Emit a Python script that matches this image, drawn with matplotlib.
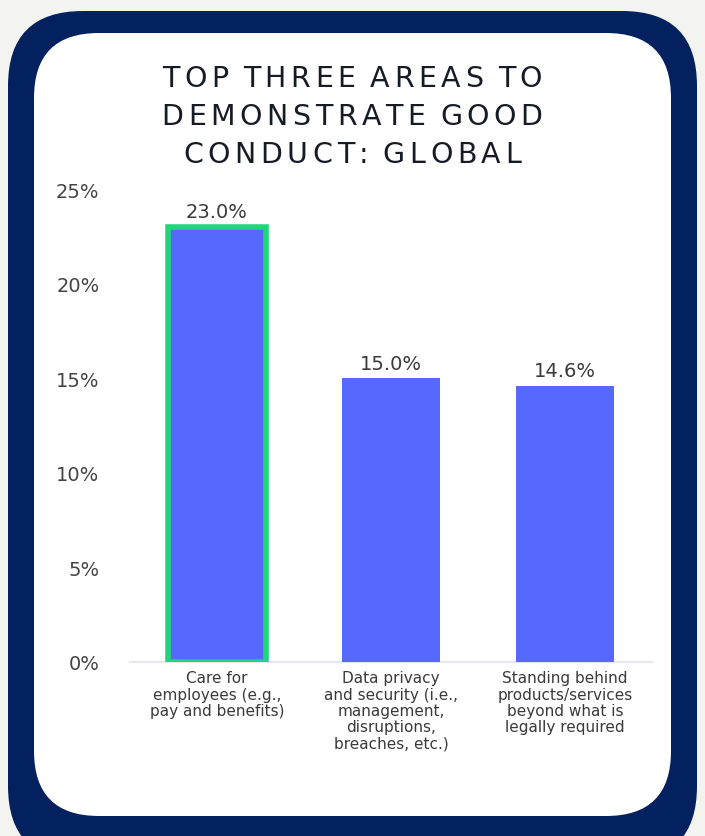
import matplotlib
matplotlib.use("Agg")
import matplotlib.pyplot as plt
from matplotlib.patches import FancyBboxPatch, Rectangle
from matplotlib.font_manager import FontProperties
from matplotlib.textpath import text_to_path

# data
categories = ["Care for\nemployees (e.g.,\npay and benefits)",
              "Data privacy\nand security (i.e.,\nmanagement,\ndisruptions,\nbreaches, etc.)",
              "Standing behind\nproducts/services\nbeyond what is\nlegally required"]
values = [23.0, 15.0, 14.6]
yticks = [0, 5, 10, 15, 20, 25]
title_lines = ["TOP THREE AREAS TO", "DEMONSTRATE GOOD", "CONDUCT: GLOBAL"]

W, H = 705, 837
fig = plt.figure(figsize=(W / 100, H / 100), dpi=100)
fig.patch.set_facecolor("#f3f4ef")

# background frame drawn in pixel coordinates
bg = fig.add_axes([0, 0, 1, 1])
bg.set_xlim(0, W)
bg.set_ylim(H, 0)
bg.axis("off")
bg.add_patch(FancyBboxPatch((8, 12), 689, 850, boxstyle="round,pad=0,rounding_size=75",
                            fc="#03215e", ec="none"))
bg.add_patch(FancyBboxPatch((34, 34), 637, 783, boxstyle="round,pad=0,rounding_size=65",
                            fc="white", ec="none"))
bg.add_patch(Rectangle((45, 200), 615, 588, fc="white", ec="none"))

# title with letter spacing
fp = FontProperties(family="DejaVu Sans", size=20.5)
k = 100 / 72
target = 380
widths = [[text_to_path.get_text_width_height_descent(c, fp, ismath=False)[0] * k * (0.6 if c == " " else 1)
           for c in ln] for ln in title_lines]
track = (target - sum(widths[0])) / (len(title_lines[0]) - 1)
for i, ln in enumerate(title_lines):
    ws = widths[i]
    total = sum(ws) + track * (len(ln) - 1)
    x = 352 - total / 2
    y = 79 + i * 38
    for c, w in zip(ln, ws):
        bg.text(x, y, c, fontproperties=fp, color="#161b26", ha="left", va="center")
        x += w + track

# chart
ax = fig.add_axes([130 / W, 1 - 663 / H, 522 / W, 473 / H])
ax.set_facecolor("none")
x = range(len(values))
edges = ["#1fd67a", "none", "none"]
lws = [4, 0, 0]
bars = ax.bar(x, values, width=0.56, color="#5668fe", edgecolor=edges, linewidth=lws, zorder=3)
ax.set_xlim(-0.5, 2.5)
ax.set_ylim(0, 25)
ax.set_yticks(yticks)
ax.set_yticklabels([f"{t}%" for t in yticks], fontsize=14, color="#444444")
ax.set_xticks(list(x))
ax.set_xticklabels(categories, fontsize=11, color="#3a3a3a", linespacing=1.1)
ax.tick_params(axis="y", length=0, pad=22)
ax.tick_params(axis="x", length=0, pad=6)
for s in ["top", "right", "left"]:
    ax.spines[s].set_visible(False)
ax.spines["bottom"].set_color("#e6e7f0")
ax.spines["bottom"].set_linewidth(1.5)

for b, v in zip(bars, values):
    ax.annotate(f"{v:.1f}%", (b.get_x() + b.get_width() / 2, v), xytext=(0, 4),
                textcoords="offset points", ha="center", va="bottom",
                fontsize=14, color="#3a3a3a")

fig.savefig("out.png", dpi=100, facecolor=fig.get_facecolor())
